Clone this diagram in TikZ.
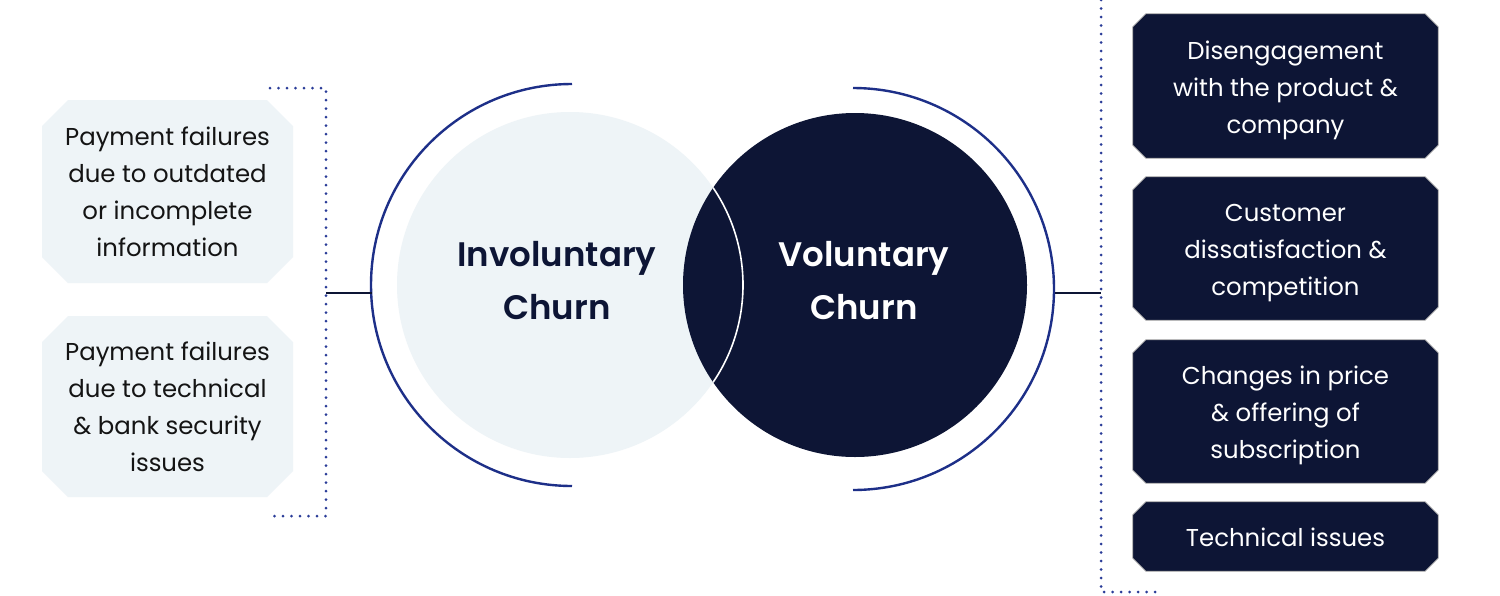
\documentclass[tikz,border=0pt]{standalone}
\usepackage{fontspec}
\setmainfont{Poppins}[BoldFont={Poppins SemiBold}]
\usetikzlibrary{shapes.misc}
\definecolor{navy}{HTML}{0D1535}
\definecolor{lightbg}{HTML}{EEF4F7}
\definecolor{arcblue}{HTML}{1D2F88}
\definecolor{dotblue}{HTML}{2A3C98}
\definecolor{ink}{HTML}{141414}
\newcommand\chambox[2]{\path[#2] ([xshift=13pt]#1.north west) -- ([xshift=-13pt]#1.north east) -- ([yshift=-13pt]#1.north east) -- ([yshift=13pt]#1.south east) -- ([xshift=-13pt]#1.south east) -- ([xshift=13pt]#1.south west) -- ([yshift=13pt]#1.south west) -- ([yshift=-13pt]#1.north west) -- cycle;}
\tikzset{
  lightbox/.style={chamfered rectangle, chamfered rectangle xsep=13pt, chamfered rectangle ysep=13pt,
    fill=lightbg, draw=none, inner sep=0pt, minimum width=251pt, align=center, text=ink,
    font=\fontsize{24.4}{37}\selectfont},
  darkframe/.style={rectangle, draw=none, inner sep=0pt, minimum width=305pt},
  darkfill/.style={fill=navy, draw=black!35, line width=0.8pt},
  darktext/.style={align=center, text=white, inner sep=0pt, font=\fontsize{24.4}{37}\selectfont},
  bigtext/.style={align=center, font=\fontsize{34}{53}\selectfont\bfseries},
  bigarc/.style={draw=arcblue, line width=2.4pt},
  link/.style={draw=navy, line width=2pt},
  dotline/.style={draw=dotblue, line width=3pt, line cap=round, dash pattern=on 0pt off 8.5pt},
}
\begin{document}
\begin{tikzpicture}[x=1pt,y=-1pt]
\useasboundingbox[fill=white] (0,0) rectangle (1500,595);

% circles
\node[circle, fill=lightbg, minimum size=346pt, inner sep=0pt] (inv) at (570,285) {};
\node[circle, fill=navy, minimum size=344pt, inner sep=0pt] (vol) at (855,285) {};
\begin{scope}
  \clip (855,285) circle[radius=172];
  \draw[white, line width=1.6pt] (570,285) circle[radius=173];
\end{scope}
\node[bigtext, text=navy] (invt) at (557,281) {Involuntary\\Churn};
\node[bigtext, text=white] (volt) at (864,281) {Voluntary\\Churn};

% outer arcs
\coordinate (la) at (572,84);
\draw[bigarc] (la) arc[start angle=-90, end angle=-270, radius=201];
\coordinate (ra) at (853,88);
\draw[bigarc] (ra) arc[start angle=-90, end angle=90, radius=201];

% brackets
\coordinate (lbt) at (326,88);
\coordinate (lbb) at (326,516);
\coordinate (lbm) at (326,293);
\draw[dotline] (270,88) -- (lbt) -- (lbb) -- (270,516);
\coordinate (rbt) at (1101,0);
\coordinate (rbb) at (1101,592);
\coordinate (rbm) at (1101,293);
\draw[dotline] (rbt) -- (rbb) -- (1160,592);

\draw[link] (lbm) -- (372,293);
\draw[link] (1055,293) -- (rbm);

% left boxes
\node[lightbox, minimum height=183pt] (l1) at (167.5,191.5) {Payment failures\\due to outdated\\or incomplete\\information};
\node[lightbox, minimum height=181pt] (l2) at (167.5,406.5) {Payment failures\\due to technical\\\& bank security\\issues};

% right boxes
\node[darkframe, minimum height=144pt] (r1) at (1285.5,86) {};
\chambox{r1}{darkfill}
\node[darktext] (r1t) at ([yshift=-4pt]r1.center) {Disengagement\\with the product \&\\company};
\node[darkframe, minimum height=143pt] (r2) at (1285.5,248.5) {};
\chambox{r2}{darkfill}
\node[darktext] (r2t) at ([yshift=-5pt]r2.center) {Customer\\dissatisfaction \&\\competition};
\node[darkframe, minimum height=143pt] (r3) at (1285.5,411.5) {};
\chambox{r3}{darkfill}
\node[darktext] (r3t) at ([yshift=-3.5pt]r3.center) {Changes in price\\\& offering of\\subscription};
\node[darkframe, minimum height=69pt] (r4) at (1285.5,536.5) {};
\chambox{r4}{darkfill}
\node[darktext] (r4t) at ([yshift=-1pt]r4.center) {Technical issues};
\end{tikzpicture}
\end{document}
